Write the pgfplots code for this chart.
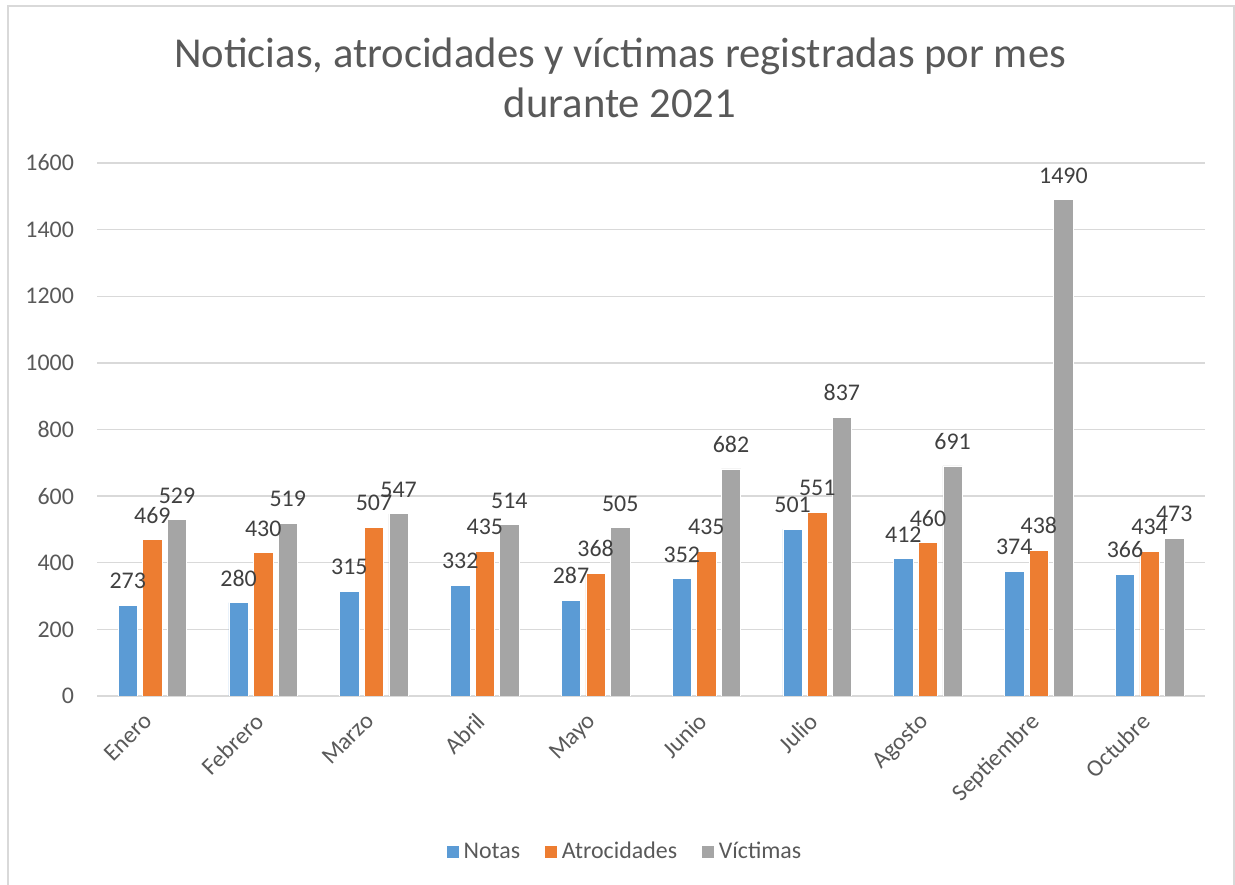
\documentclass[border=0pt]{standalone}
\usepackage{fontspec}
\setmainfont{Carlito}
\usepackage{pgfplots}
\pgfplotsset{compat=1.18}
\definecolor{cblue}{HTML}{5B9BD5}
\definecolor{corange}{HTML}{ED7D31}
\definecolor{cgray}{HTML}{A5A5A5}
\definecolor{ctext}{HTML}{595959}
\definecolor{clabel}{HTML}{404040}
\definecolor{cgrid}{HTML}{D9D9D9}
\begin{document}
\begin{tikzpicture}
\path[use as bounding box] (0,0) rectangle (617.5bp,442.5bp);
\draw[cgrid, line width=0.8bp] (3.9bp,0bp) -- (3.9bp,439.5bp) -- (616.9bp,439.5bp) -- (616.9bp,0bp);
\node[text=ctext, align=center, font=\fontsize{21.4}{25}\selectfont] at (310bp,403.5bp)
  {Noticias, atrocidades y víctimas registradas por mes\\durante 2021};
\begin{axis}[
  at={(48.5bp,94.5bp)}, anchor=south west,
  scale only axis, width=554bp, height=266.5bp,
  xmin=-0.5, xmax=9.5, ymin=0, ymax=1600,
  ytick={0,200,...,1600},
  xtick={0,...,9},
  xticklabels={Enero,Febrero,Marzo,Abril,Mayo,Junio,Julio,Agosto,Septiembre,Octubre},
  /pgf/number format/assume math mode=true,
  /pgf/number format/1000 sep={},
  x tick label style={rotate=45, anchor=north east, font=\fontsize{12}{14}\selectfont, text=ctext, xshift=-5.4bp, yshift=1.5bp},
  y tick label style={font=\fontsize{12}{14}\selectfont, text=ctext, xshift=-8bp},
  major tick length=0pt,
  ymajorgrids, grid style={cgrid, line width=0.7bp},
  axis line style={draw=none},
  ybar, bar width=9.75bp,
  nodes near coords,
  every node near coord/.append style={font=\fontsize{12}{14}\selectfont, text=clabel, inner sep=1bp, yshift=7bp},
  legend style={at={(0.477,-0.293)}, anchor=center, draw=none, fill=none, legend columns=-1,
    font=\fontsize{12}{14}\selectfont, text=ctext,
    /tikz/every even column/.append style={column sep=10bp}},
  legend image code/.code={\fill[#1] (0bp,-3.3bp) rectangle (6.6bp,3.3bp);},
]
\addplot[fill=cblue, draw=white, line width=0.3bp, bar shift=-12.3bp] coordinates {(0,273) (1,280) (2,315) (3,332) (4,287) (5,352) (6,501) (7,412) (8,374) (9,366)};
\addplot[fill=corange, draw=white, line width=0.3bp, bar shift=0bp] coordinates {(0,469) (1,430) (2,507) (3,435) (4,368) (5,435) (6,551) (7,460) (8,438) (9,434)};
\addplot[fill=cgray, draw=white, line width=0.3bp, bar shift=12.3bp] coordinates {(0,529) (1,519) (2,547) (3,514) (4,505) (5,682) (6,837) (7,691) (8,1490) (9,473)};
\legend{Notas, Atrocidades, Víctimas}
\end{axis}
\end{tikzpicture}
\end{document}
